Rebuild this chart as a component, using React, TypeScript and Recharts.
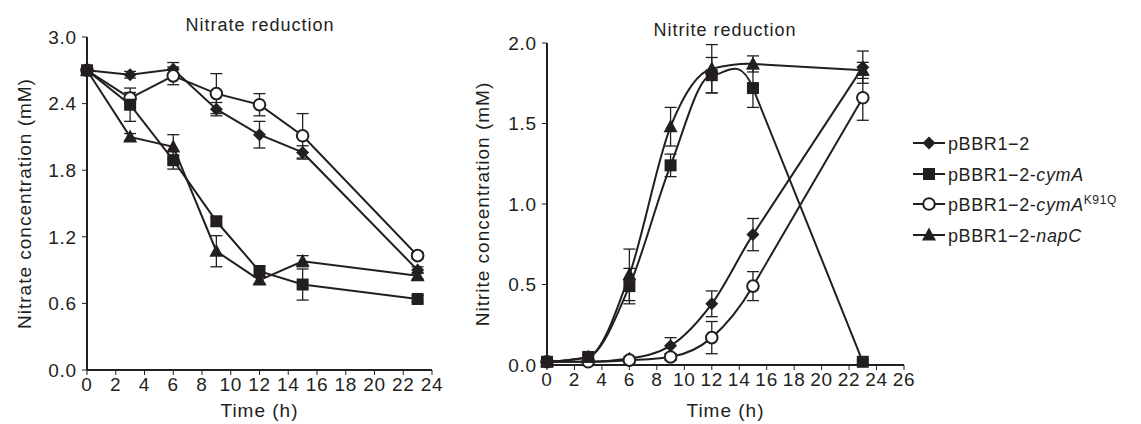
import React from "react";
import { LineChart, Line, XAxis, YAxis, ErrorBar, Label } from "recharts";

const times = [0, 3, 6, 9, 12, 15, 23];

// Nitrate reduction (left)
const nitrateCtrl = [2.7, 2.66, 2.71, 2.35, 2.12, 1.96, 0.9];
const nitrateCymA = [2.7, 2.39, 1.89, 1.34, 0.89, 0.77, 0.64];
const nitrateK91Q = [2.7, 2.45, 2.65, 2.49, 2.39, 2.11, 1.03];
const nitrateNapC = [2.7, 2.1, 2.01, 1.07, 0.81, 0.98, 0.85];
const nitrateCtrlErr = [0.02, 0.03, 0.06, 0.06, 0.12, 0.06, 0.03];
const nitrateCymAErr = [0.02, 0.15, 0.08, 0.04, 0.05, 0.14, 0.03];
const nitrateK91QErr = [0.02, 0.05, 0.08, 0.18, 0.1, 0.2, 0.03];
const nitrateNapCErr = [0.02, 0.03, 0.11, 0.14, 0.03, 0.05, 0.03];

// Nitrite reduction (right)
const nitriteCtrl = [0.02, 0.02, 0.04, 0.12, 0.38, 0.81, 1.85];
const nitriteCymA = [0.02, 0.05, 0.49, 1.24, 1.8, 1.72, 0.02];
const nitriteK91Q = [0.02, 0.02, 0.03, 0.05, 0.17, 0.49, 1.66];
const nitriteNapC = [0.02, 0.05, 0.56, 1.48, 1.84, 1.87, 1.83];
const nitriteCtrlErr = [0.01, 0.01, 0.01, 0.05, 0.08, 0.1, 0.1];
const nitriteCymAErr = [0.01, 0.01, 0.11, 0.07, 0.11, 0.12, 0.01];
const nitriteK91QErr = [0.01, 0.01, 0.01, 0.02, 0.1, 0.09, 0.14];
const nitriteNapCErr = [0.01, 0.01, 0.16, 0.12, 0.15, 0.05, 0.05];

const nitrateTicksX = [0, 2, 4, 6, 8, 10, 12, 14, 16, 18, 20, 22, 24];
const nitrateTicksY = [0, 0.6, 1.2, 1.8, 2.4, 3.0];
const nitriteTicksX = [0, 2, 4, 6, 8, 10, 12, 14, 16, 18, 20, 22, 24, 26];
const nitriteTicksY = [0, 0.5, 1.0, 1.5, 2.0];

const nitrateData = times.map((t, i) => ({
  t,
  ctrl: nitrateCtrl[i],
  cymA: nitrateCymA[i],
  k91q: nitrateK91Q[i],
  napC: nitrateNapC[i],
  ctrlErr: nitrateCtrlErr[i],
  cymAErr: nitrateCymAErr[i],
  k91qErr: nitrateK91QErr[i],
  napCErr: nitrateNapCErr[i],
}));

const nitriteData = times.map((t, i) => ({
  t,
  ctrl: nitriteCtrl[i],
  cymA: nitriteCymA[i],
  k91q: nitriteK91Q[i],
  napC: nitriteNapC[i],
  ctrlErr: nitriteCtrlErr[i],
  cymAErr: nitriteCymAErr[i],
  k91qErr: nitriteK91QErr[i],
  napCErr: nitriteNapCErr[i],
}));

const INK = "#231f20";
const FONT = "'Liberation Sans', Arial, Helvetica, sans-serif";
const tickStyle = { fill: INK, fontSize: 19, fontFamily: FONT, letterSpacing: 0.8 };

// Smoothed curve (monotone tangents) whose final segment is drawn straight.
function smoothThenStraight(context: any) {
  let pts: number[][] = [];
  const sign = (v: number) => (v < 0 ? -1 : 1);
  return {
    areaStart() {},
    areaEnd() {},
    lineStart() {
      pts = [];
    },
    point(x: any, y: any) {
      pts.push([+x, +y]);
    },
    lineEnd() {
      const n = pts.length;
      if (n === 0) return;
      context.moveTo(pts[0][0], pts[0][1]);
      if (n === 1) return;
      if (n === 2) {
        context.lineTo(pts[1][0], pts[1][1]);
        return;
      }
      const m = new Array(n).fill(0);
      for (let i = 1; i < n - 1; i++) {
        const h0 = pts[i][0] - pts[i - 1][0];
        const h1 = pts[i + 1][0] - pts[i][0];
        const s0 = (pts[i][1] - pts[i - 1][1]) / (h0 || 1);
        const s1 = (pts[i + 1][1] - pts[i][1]) / (h1 || 1);
        const p = (s0 * h1 + s1 * h0) / (h0 + h1);
        m[i] = (sign(s0) + sign(s1)) * Math.min(Math.abs(s0), Math.abs(s1), 0.5 * Math.abs(p)) || 0;
      }
      // tangent at the start of the straight final segment follows that segment
      const hl = pts[n - 1][0] - pts[n - 2][0];
      m[n - 2] = (pts[n - 1][1] - pts[n - 2][1]) / (hl || 1);
      const h = pts[1][0] - pts[0][0];
      m[0] = h ? (3 * (pts[1][1] - pts[0][1]) / h - m[1]) / 2 : m[1];
      for (let i = 0; i < n - 2; i++) {
        const [x0, y0] = pts[i];
        const [x1, y1] = pts[i + 1];
        const dx = (x1 - x0) / 3;
        context.bezierCurveTo(x0 + dx, y0 + dx * m[i], x1 - dx, y1 - dx * m[i + 1], x1, y1);
      }
      context.lineTo(pts[n - 1][0], pts[n - 1][1]);
    },
  };
}

function Diamond({ cx, cy }: any) {
  if (cx == null || cy == null) return null;
  const s = 6.5;
  return <polygon points={`${cx},${cy - s} ${cx + s},${cy} ${cx},${cy + s} ${cx - s},${cy}`} fill={INK} />;
}
function Square({ cx, cy }: any) {
  if (cx == null || cy == null) return null;
  return <rect x={cx - 6} y={cy - 6} width={12} height={12} fill={INK} />;
}
function Circle({ cx, cy }: any) {
  if (cx == null || cy == null) return null;
  return <circle cx={cx} cy={cy} r={5.8} fill="#fff" stroke={INK} strokeWidth={2} />;
}
function Triangle({ cx, cy }: any) {
  if (cx == null || cy == null) return null;
  return <polygon points={`${cx},${cy - 7.5} ${cx + 7},${cy + 5.5} ${cx - 7},${cy + 5.5}`} fill={INK} />;
}

const dotFn = (Comp: any) => (p: any) => <Comp key={`${p.dataKey}-${p.index}`} cx={p.cx} cy={p.cy} />;

function yLabel(text: string, dx: number) {
  return (props: any) => {
    const vb = props.viewBox || {};
    const x = vb.x + dx;
    const y = vb.y + vb.height / 2;
    return (
      <text
        x={x}
        y={y}
        transform={`rotate(-90 ${x} ${y})`}
        textAnchor="middle"
        dominantBaseline="central"
        fill={INK}
        fontSize={19}
        fontFamily={FONT}
        letterSpacing={1}
      >
        {text}
      </text>
    );
  };
}

function xLabel(text: string) {
  return (props: any) => {
    const vb = props.viewBox || {};
    const x = vb.x + vb.width / 2;
    const y = vb.y + vb.height - 7;
    return (
      <text x={x} y={y} textAnchor="middle" fill={INK} fontSize={19} fontFamily={FONT} letterSpacing={1}>
        {text}
      </text>
    );
  };
}

function renderLines(curve: any) {
  const specs = [
    { k: "ctrl", e: "ctrlErr", s: Diamond },
    { k: "k91q", e: "k91qErr", s: Circle },
    { k: "cymA", e: "cymAErr", s: Square },
    { k: "napC", e: "napCErr", s: Triangle },
  ];
  return specs.map((sp) => (
    <Line
      key={sp.k}
      type={curve}
      dataKey={sp.k}
      stroke={INK}
      strokeWidth={2}
      dot={dotFn(sp.s)}
      activeDot={false}
      isAnimationActive={false}
    >
      <ErrorBar dataKey={sp.e} width={6} stroke={INK} strokeWidth={1.3} direction="y" isAnimationActive={false} />
    </Line>
  ));
}

function LegendBox() {
  const rows = [
    { s: Diamond, y: 23 },
    { s: Square, y: 54 },
    { s: Circle, y: 84 },
    { s: Triangle, y: 115 },
  ];
  const textProps = { fill: INK, fontSize: 18, fontFamily: FONT, letterSpacing: 0.6 };
  return (
    <svg width={241} height={140} style={{ position: "absolute", left: 900, top: 120 }}>
      {rows.map((r, i) => {
        const S = r.s;
        return (
          <g key={i}>
            <line x1={13} x2={45} y1={r.y} y2={r.y} stroke={INK} strokeWidth={2} />
            <S cx={29} cy={r.y} />
          </g>
        );
      })}
      <text x={48} y={rows[0].y + 6.5} {...textProps}>pBBR1−2</text>
      <text x={48} y={rows[1].y + 6.5} {...textProps}>
        pBBR1−2-<tspan fontStyle="italic">cymA</tspan>
      </text>
      <text x={48} y={rows[2].y + 6.5} {...textProps}>
        pBBR1−2-<tspan fontStyle="italic">cymA</tspan>
        <tspan fontSize={12} dy={-7}>K91Q</tspan>
      </text>
      <text x={48} y={rows[3].y + 6.5} {...textProps}>
        pBBR1−2-<tspan fontStyle="italic">napC</tspan>
      </text>
    </svg>
  );
}

const titleStyle: React.CSSProperties = {
  position: "absolute",
  fontFamily: FONT,
  fontSize: 18,
  letterSpacing: 1,
  color: INK,
  transform: "translate(-50%, -50%)",
  whiteSpace: "nowrap",
  lineHeight: 1,
};

export default function App() {
  return (
    <div style={{ position: "absolute", left: 0, top: 0, width: 1141, height: 424, background: "#fff", overflow: "hidden" }}>
      <div style={{ position: "absolute", left: 0, top: 0 }}>
        <LineChart width={450} height={424} data={nitrateData} margin={{ top: 37, right: 18, bottom: 0, left: 0 }}>
          <XAxis
            dataKey="t"
            type="number"
            domain={[0, 24]}
            ticks={nitrateTicksX}
            height={54}
            tick={tickStyle}
            tickSize={5}
            tickMargin={3}
            axisLine={{ stroke: INK, strokeWidth: 2 }}
            tickLine={{ stroke: INK, strokeWidth: 1 }}
          >
            <Label content={xLabel("Time (h)")} />
          </XAxis>
          <YAxis
            type="number"
            domain={[0, 3]}
            ticks={nitrateTicksY}
            width={87}
            tick={tickStyle}
            tickSize={5}
            tickMargin={5}
            tickFormatter={(v: number) => v.toFixed(1)}
            axisLine={{ stroke: INK, strokeWidth: 2 }}
            tickLine={{ stroke: INK, strokeWidth: 1 }}
          >
            <Label content={yLabel("Nitrate concentration (mM)", 24)} />
          </YAxis>
          {renderLines("linear")}
        </LineChart>
      </div>
      <div style={{ position: "absolute", left: 440, top: 0 }}>
        <LineChart width={482} height={424} data={nitriteData} margin={{ top: 43, right: 18, bottom: 0, left: 0 }}>
          <XAxis
            dataKey="t"
            type="number"
            domain={[0, 26]}
            ticks={nitriteTicksX}
            height={59}
            tick={tickStyle}
            tickSize={5}
            tickMargin={3}
            axisLine={{ stroke: INK, strokeWidth: 2 }}
            tickLine={{ stroke: INK, strokeWidth: 1 }}
          >
            <Label content={xLabel("Time (h)")} />
          </XAxis>
          <YAxis
            type="number"
            domain={[0, 2]}
            ticks={nitriteTicksY}
            width={107}
            tick={tickStyle}
            tickSize={5}
            tickMargin={5}
            tickFormatter={(v: number) => v.toFixed(1)}
            axisLine={{ stroke: INK, strokeWidth: 2 }}
            tickLine={{ stroke: INK, strokeWidth: 1 }}
          >
            <Label content={yLabel("Nitrite concentration (mM)", 42)} />
          </YAxis>
          {renderLines(smoothThenStraight)}
        </LineChart>
      </div>
      <div style={{ ...titleStyle, left: 260, top: 25 }}>Nitrate reduction</div>
      <div style={{ ...titleStyle, left: 725, top: 30 }}>Nitrite reduction</div>
      <LegendBox />
    </div>
  );
}
